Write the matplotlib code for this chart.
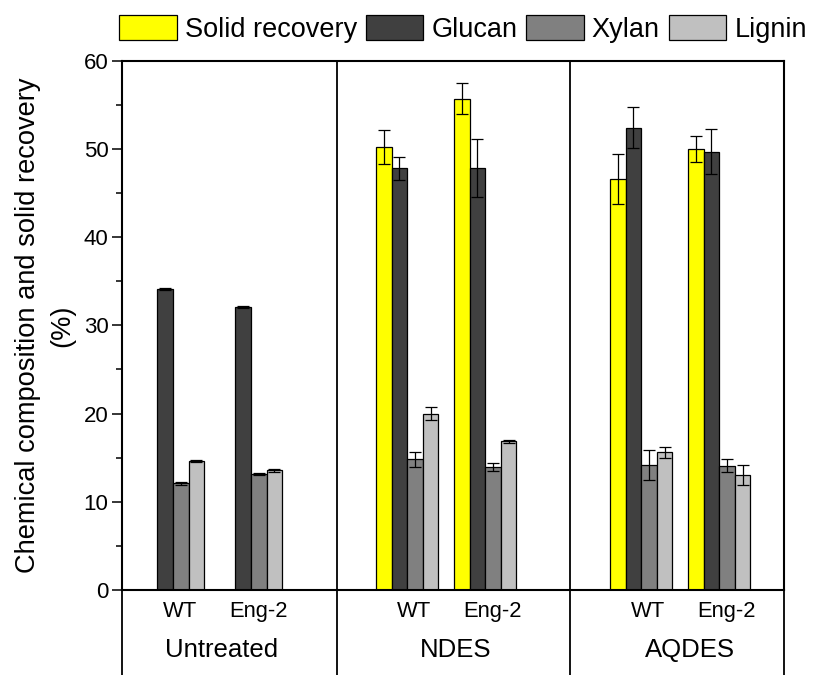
import numpy as np
import matplotlib
matplotlib.use("Agg")
import matplotlib.pyplot as plt
from matplotlib.patches import Patch
from matplotlib.ticker import MultipleLocator

plt.rcParams['font.family'] = ['Liberation Sans', 'DejaVu Sans']

groups = ["Untreated", "NDES", "AQDES"]
samples = ["WT", "Eng-2"]
series_names = ["Solid recovery", "Glucan", "Xylan", "Lignin"]
colors = ["#FFFF00", "#404040", "#808080", "#C0C0C0"]

solid = [np.nan, np.nan, 50.2, 55.7, 46.6, 50.0]
solid_err = [np.nan, np.nan, 1.9, 1.8, 2.8, 1.5]
glucan = [34.1, 32.05, 47.8, 47.8, 52.4, 49.7]
glucan_err = [0.1, 0.1, 1.3, 3.3, 2.3, 2.5]
xylan = [12.1, 13.15, 14.85, 13.95, 14.2, 14.1]
xylan_err = [0.2, 0.1, 0.85, 0.5, 1.7, 0.7]
lignin = [14.66, 13.57, 19.99, 16.86, 15.6, 13.05]
lignin_err = [0.1, 0.2, 0.7, 0.2, 0.65, 1.1]

values = [solid, glucan, xylan, lignin]
errors = [solid_err, glucan_err, xylan_err, lignin_err]

fig = plt.figure(figsize=(8.16, 6.75), dpi=100)
ax = fig.add_axes([0.1499, 0.1259, 0.9608 - 0.1499, 0.9101 - 0.1259])

x = np.array([3 * g + s for g in range(len(groups)) for s in range(len(samples))], dtype=float)
w = 0.2
offsets = [-0.3, -0.1, 0.1, 0.3]
for vals, errs, col, off in zip(values, errors, colors, offsets):
    v = np.array(vals, dtype=float)
    e = np.array(errs, dtype=float)
    m = ~np.isnan(v)
    ax.bar(x[m] + off, v[m], width=w, color=col, edgecolor='black', linewidth=0.9, zorder=2)
    ax.errorbar(x[m] + off, v[m], yerr=e[m], fmt='none', ecolor='black',
                elinewidth=0.9, capsize=4.2, capthick=0.9, zorder=3)

xl, xr = -0.65, 7.83
seps = [2.1, 5.09]
ax.set_xlim(xl, xr)
ax.set_ylim(0, 60)
ax.yaxis.set_major_locator(MultipleLocator(10))
ax.yaxis.set_minor_locator(MultipleLocator(5))
ax.tick_params(axis='y', which='major', direction='out', length=7, width=1.1, labelsize=16, pad=3)
ax.tick_params(axis='y', which='minor', direction='out', length=4, width=1.1)
ax.set_xticks([])
for sp in ax.spines.values():
    sp.set_linewidth(1.5)

# separators inside and below axes
trans = ax.get_xaxis_transform()
for sx in seps:
    ax.plot([sx, sx], [0, 1], transform=trans, color='black', lw=1.3, clip_on=False, zorder=4)
for sx in [xl] + seps + [xr]:
    ax.plot([sx, sx], [0, -0.2], transform=trans, color='black', lw=1.3, clip_on=False, zorder=4)

# sample labels
for xi, lab in zip(x, samples * len(groups)):
    ax.text(xi + 0.09, -0.041, lab, transform=trans, ha='center', va='center', fontsize=15.8)
# group labels
for g, gname in enumerate(groups):
    ax.text(3 * g + 0.5 + 0.12, -0.113, gname, transform=trans, ha='center', va='center', fontsize=18.5)

ax.set_ylabel("Chemical composition and solid recovery\n(%)", fontsize=19.6, labelpad=6, linespacing=1.4)

handles = [Patch(facecolor=c, edgecolor='black', linewidth=0.9) for c in colors]
fig.legend(handles, series_names, loc='center', bbox_to_anchor=(463 / 816, 1 - 28.7 / 675),
           ncol=4, frameon=False, fontsize=19.5, handlelength=2.12, handleheight=1.07,
           handletextpad=0.3, columnspacing=0.33, borderaxespad=0, borderpad=0)

fig.savefig("out.png", dpi=100)
